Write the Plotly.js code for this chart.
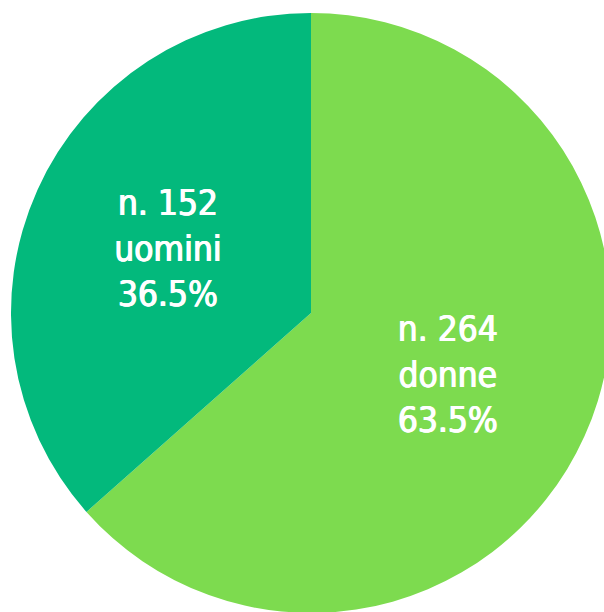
<!DOCTYPE html>
<html>
<head>
<meta charset="utf-8">
<script src="https://cdn.plot.ly/plotly-3.0.1.min.js"></script>
<style>
html,body{margin:0;padding:0;overflow:hidden;background:#fff;}
#chart{width:622px;height:626px;}
</style>
</head>
<body>
<div id="chart"></div>
<script>
const categories = ["donne", "uomini"];
const counts = [264, 152];
const percentLabels = ["63.5%", "36.5%"];
const colors = ["#7ddb4f", "#03b97c"];

const texts = categories.map((c, i) => "n. " + counts[i] + "<br>" + c + "<br>" + percentLabels[i]);

const W = 622, H = 626;
Plotly.newPlot("chart", [{
  type: "pie",
  labels: categories,
  values: counts,
  text: texts,
  textinfo: "text",
  hoverinfo: "none",
  textposition: "inside",
  insidetextorientation: "horizontal",
  sort: false,
  direction: "clockwise",
  rotation: 0,
  marker: {colors: colors, line: {width: 0}},
  textfont: {family: "DejaVu Sans Condensed, DejaVu Sans, sans-serif", size: 35, color: "#ffffff", weight: "normal", stretch: "condensed",
             shadow: "0.6px 0 0 #ffffff, -0.6px 0 0 #ffffff"},
  domain: {x: [11 / W, 611 / W], y: [13 / H, 613 / H]}
}], {
  width: W,
  height: H,
  margin: {l: 0, r: 0, t: 0, b: 0},
  showlegend: false,
  paper_bgcolor: "#ffffff"
}, {staticPlot: true});
</script>
</body>
</html>
